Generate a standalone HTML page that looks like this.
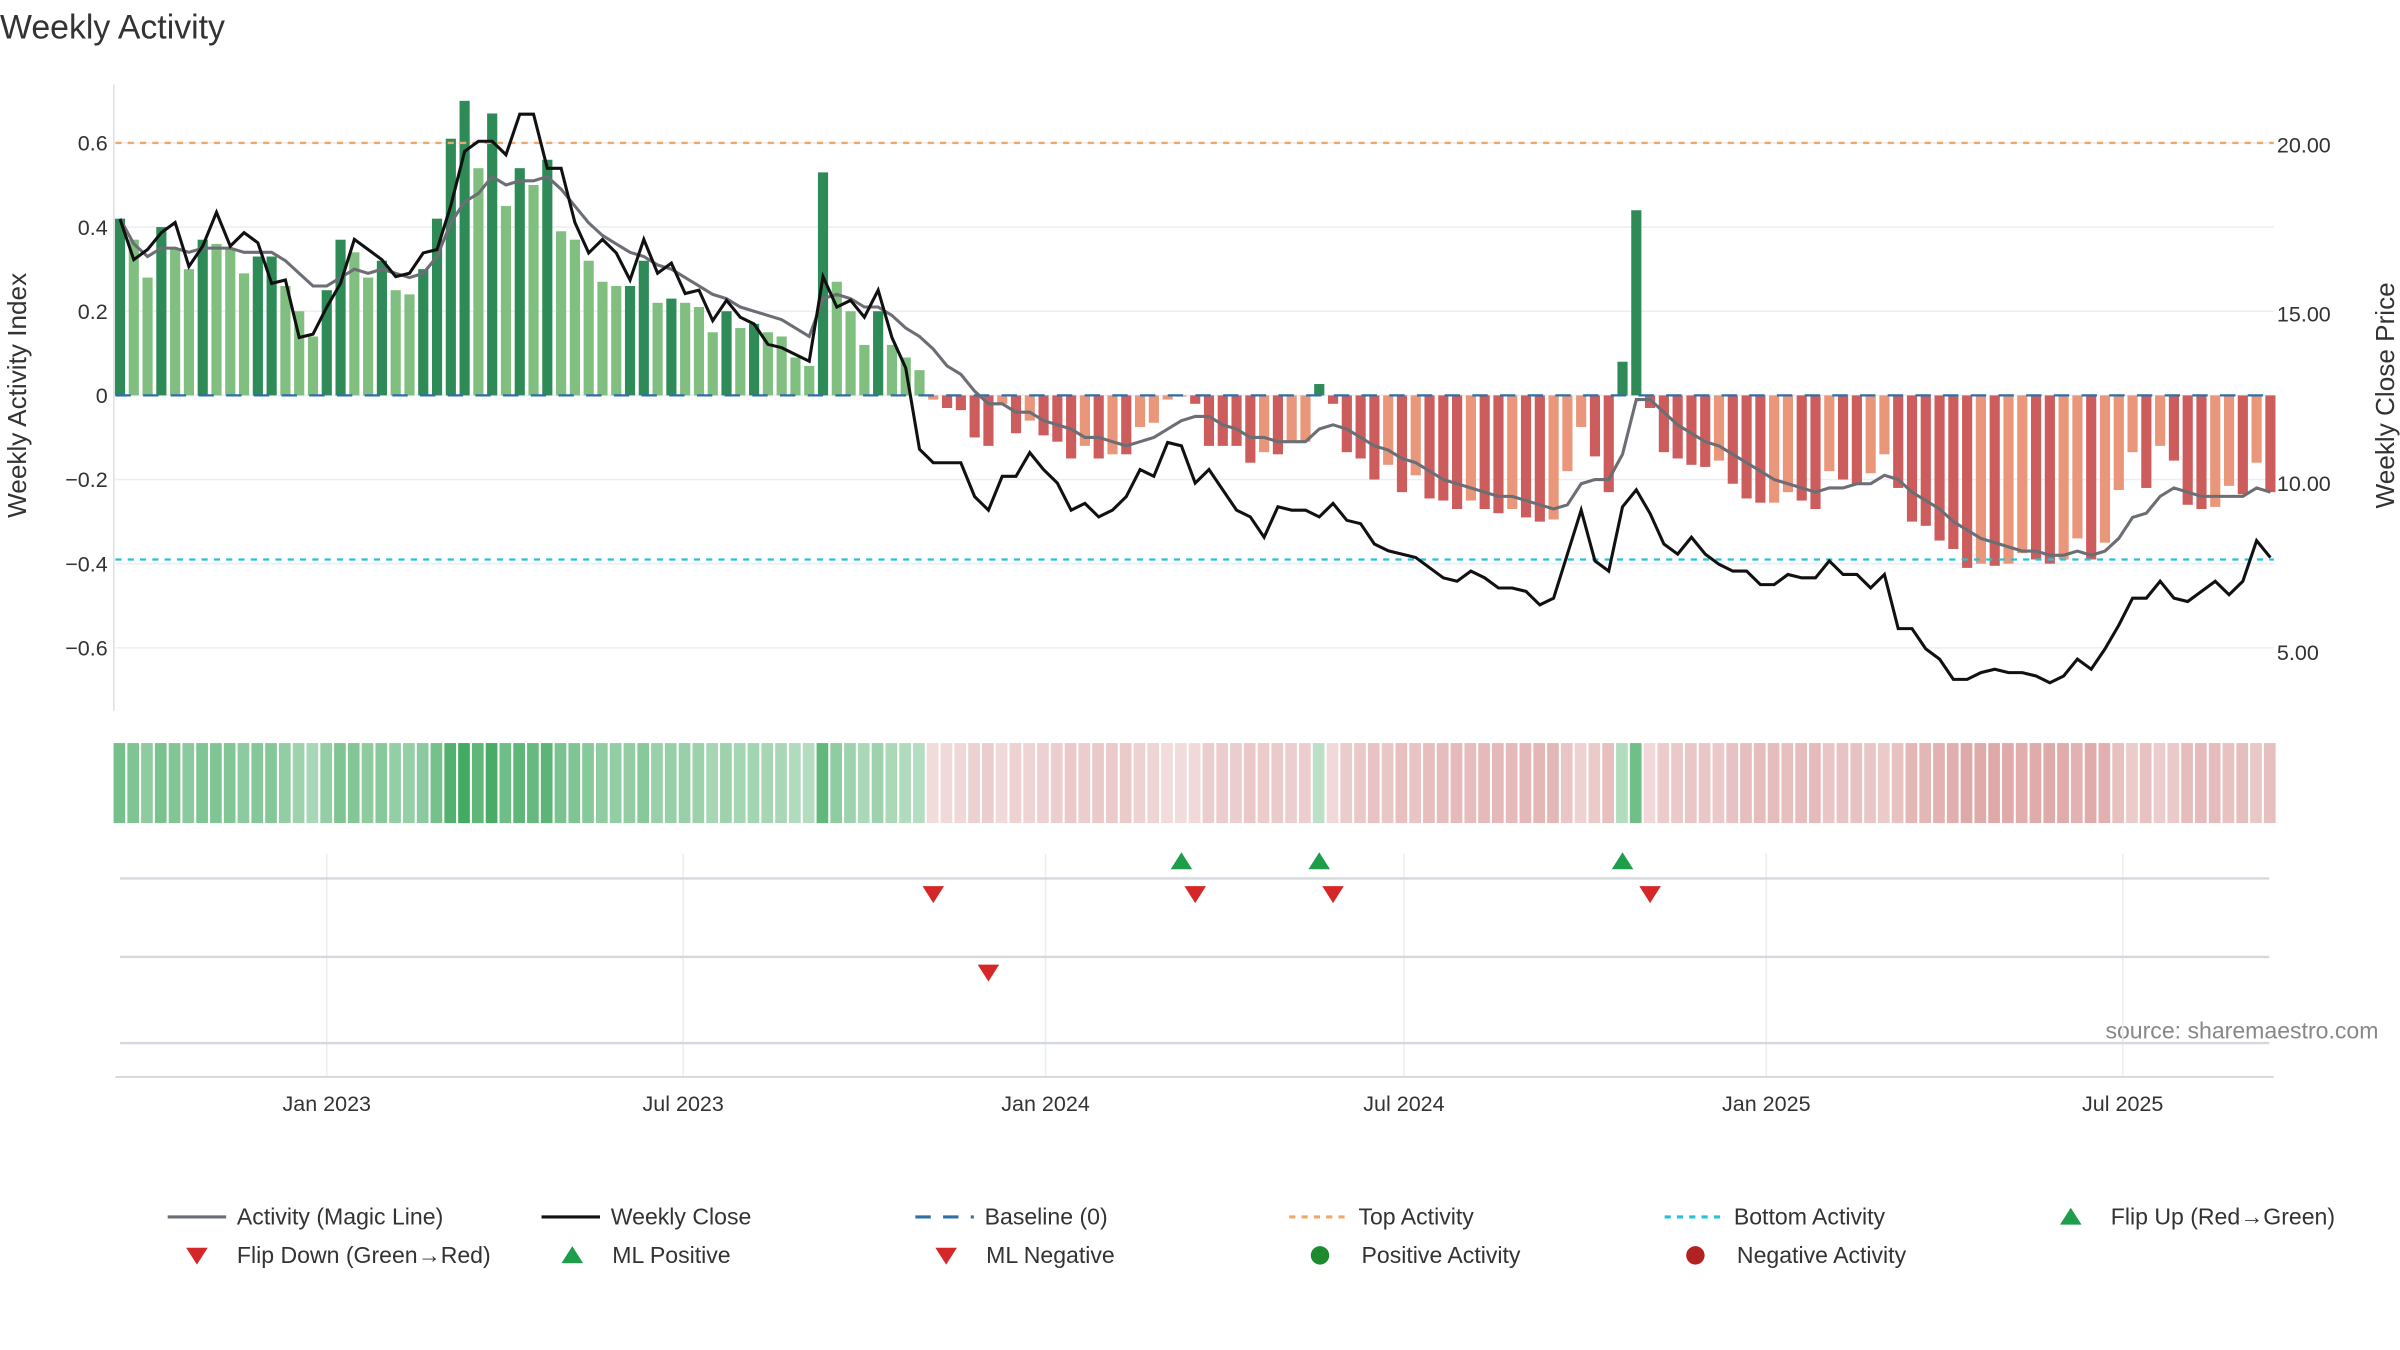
<!DOCTYPE html>
<html><head><meta charset="utf-8"><style>
html,body{margin:0;padding:0;background:#fff;}
svg{display:block;font-family:"Liberation Sans","DejaVu Sans",sans-serif;}
</style></head><body>
<svg id="chart" width="2400" height="1350" viewBox="0 0 1560 877.5" xmlns="http://www.w3.org/2000/svg">
<text x="0" y="25" font-size="22" fill="#333">Weekly Activity</text>
<text transform="translate(17,257) rotate(-90)" text-anchor="middle" font-size="17" fill="#333">Weekly Activity Index</text>
<text transform="translate(1556,257) rotate(-90)" text-anchor="middle" font-size="17" fill="#333">Weekly Close Price</text>
<text x="1546" y="675" text-anchor="end" font-size="15" fill="#888">source: sharemaestro.com</text>
<g id="grid"></g><g id="bars"></g><g id="lines"></g><g id="strip"></g><g id="signals"></g><g id="axes"></g><g id="legend"></g>
</svg>
<script>
const activity=[.42,.37,.28,.40,.35,.30,.37,.36,.35,.29,.33,.33,.26,.20,.14,.25,.37,.34,.28,.32,.25,.24,.30,.42,.61,.70,.54,.67,.45,.54,.50,.56,.39,.37,.32,.27,.26,.26,.32,.22,.23,
.22,.21,.15,.20,.16,.17,.15,.14,.09,.07,.53,.27,.20,.12,.20,.12,.09,.06,-.01,-.03,-.035,-.10,-.12,-.02,-.09,-.06,-.095,-.11,-.15,-.12,-.15,-.14,-.14,-.075,-.065,-.01,-.003,-.02,-.12,-.12,
-.12,-.16,-.135,-.14,-.11,-.11,.027,-.02,-.135,-.15,-.20,-.165,-.23,-.19,-.245,-.25,-.27,-.25,-.27,-.28,-.27,-.29,-.30,-.295,-.18,-.075,-.145,-.23,.08,.44,-.03,-.135,-.15,-.165,-.17,-.155,-.21,-.245,-.255,-.255,
-.23,-.25,-.27,-.18,-.20,-.21,-.185,-.14,-.22,-.30,-.31,-.345,-.365,-.41,-.40,-.405,-.40,-.375,-.39,-.40,-.39,-.34,-.39,-.35,-.225,-.135,-.22,-.12,-.155,-.26,-.27,-.265,-.215,-.235,-.16,-.23];
const strong=[1,0,0,1,0,0,1,0,0,0,1,1,0,0,0,1,1,0,0,1,0,0,1,1,1,1,0,1,0,1,0,1,0,0,0,0,0,1,1,0,1,
0,0,0,1,0,1,0,0,0,0,1,0,0,0,1,0,0,0,0,1,1,1,1,0,1,0,1,1,1,0,1,0,1,0,0,0,0,1,1,1,
1,1,0,1,0,0,1,1,1,1,1,0,1,0,1,1,1,0,1,1,0,1,1,0,0,0,1,1,1,1,1,1,1,1,1,0,1,1,1,0,
0,1,1,0,1,1,0,0,1,1,1,1,1,1,0,1,0,0,1,1,0,0,1,0,0,0,1,0,1,1,1,0,0,1,0,1];
const magic=[.42,.36,.33,.35,.35,.34,.35,.35,.35,.34,.34,.34,.32,.29,.26,.26,.28,.30,.29,.30,.29,.28,.29,.33,.41,.46,.48,.52,.50,.51,.51,.52,.49,.45,.41,.38,.36,.34,.33,.31,.30,
.28,.26,.24,.23,.21,.20,.19,.18,.16,.14,.23,.24,.23,.21,.21,.19,.16,.14,.11,.07,.05,.01,-.02,-.02,-.04,-.04,-.06,-.07,-.08,-.10,-.10,-.11,-.12,-.11,-.10,-.08,-.06,-.05,-.05,-.07,
-.08,-.10,-.10,-.11,-.11,-.11,-.08,-.07,-.08,-.10,-.12,-.13,-.15,-.16,-.18,-.20,-.21,-.22,-.23,-.24,-.24,-.25,-.26,-.27,-.26,-.21,-.20,-.20,-.14,-.01,-.01,-.04,-.07,-.09,-.11,-.12,-.14,-.16,-.18,-.20,
-.21,-.22,-.23,-.22,-.22,-.21,-.21,-.19,-.20,-.23,-.25,-.27,-.30,-.32,-.34,-.35,-.36,-.37,-.37,-.38,-.38,-.37,-.38,-.37,-.34,-.29,-.28,-.24,-.22,-.23,-.24,-.24,-.24,-.24,-.22,-.23];
const closePrice=[17.8,16.6,16.9,17.4,17.7,16.4,17.0,18.0,17.0,17.4,17.1,15.9,16.0,14.3,14.4,15.2,15.9,17.2,16.9,16.6,16.1,16.2,16.8,16.9,18.2,19.8,20.1,20.1,19.7,20.9,20.9,19.3,19.3,17.7,16.8,17.2,16.8,16.0,17.2,16.2,16.5,
15.6,15.7,14.8,15.4,14.9,14.7,14.1,14.0,13.8,13.6,16.1,15.2,15.4,14.9,15.7,14.3,13.4,11.0,10.6,10.6,10.6,9.6,9.2,10.2,10.2,10.9,10.4,10.0,9.2,9.4,9.0,9.2,9.6,10.4,10.2,11.2,11.1,10.0,10.4,9.8,
9.2,9.0,8.4,9.3,9.2,9.2,9.0,9.4,8.9,8.8,8.2,8.0,7.9,7.8,7.5,7.2,7.1,7.4,7.2,6.9,6.9,6.8,6.4,6.6,7.9,9.2,7.7,7.4,9.3,9.8,9.1,8.2,7.9,8.4,7.9,7.6,7.4,7.4,7.0,7.0,
7.3,7.2,7.2,7.7,7.3,7.3,6.9,7.3,5.7,5.7,5.1,4.8,4.2,4.2,4.4,4.5,4.4,4.4,4.3,4.1,4.3,4.8,4.5,5.1,5.8,6.6,6.6,7.1,6.6,6.5,6.8,7.1,6.7,7.1,8.3,7.8];
const leftTicks=[0.6,0.4,0.2,0,-0.2,-0.4,-0.6];
const leftTickLabels=["0.6","0.4","0.2","0","\u22120.2","\u22120.4","\u22120.6"];
const rightTicks=[20,15,10,5];
const rightTickLabels=["20.00","15.00","10.00","5.00"];
const dateTicks=["2023-01-01","2023-07-01","2024-01-01","2024-07-01","2025-01-01","2025-07-01"];
const dateTickLabels=["Jan 2023","Jul 2023","Jan 2024","Jul 2024","Jan 2025","Jul 2025"];
const startDate="2022-09-18";
const topActivity=0.6, bottomActivity=-0.39;
const flipUp=[77,87,109];
const flipDown=[59,78,88,111];
const mlNegative=[63];

const NS="http://www.w3.org/2000/svg";
const X0=78, STEP=8.96;
const xi=i=>X0+i*STEP;
const yA=v=>257-v*273.5;
const yP=p=>94+(20-p)*22;
const xd=s=>X0+((new Date(s)-new Date(startDate))/86400000)/7*STEP;
function mk(tag,attrs,parent){const e=document.createElementNS(NS,tag);for(const k in attrs)e.setAttribute(k,attrs[k]);document.getElementById(parent).appendChild(e);return e;}

// grid + reference lines
leftTicks.forEach((t,i)=>{
 const g=mk('line',{x1:75,x2:1478,y1:yA(t),y2:yA(t),stroke:'#eceef2','stroke-width':1},'grid');
 
 
 const l=mk('text',{x:70,y:yA(t)+5,'text-anchor':'end','font-size':14,fill:'#333'},'axes');
 l.textContent=leftTickLabels[i];
 
 
});
rightTicks.forEach((t,i)=>{
 const l=mk('text',{x:1480,y:yP(t)+5,'font-size':14,fill:'#333'},'axes');
 l.textContent=rightTickLabels[i];
 
 
});
let sp=mk('line',{x1:74,x2:74,y1:55,y2:462,stroke:'#dde0e4','stroke-width':1},'axes');



activity.forEach((v,i)=>{
 const pos=v>=0;
 const col=pos?(strong[i]?'#2e8b57':'#80bf80'):(strong[i]?'#cd5c5c':'#e9967a');
 const y=Math.min(yA(v),yA(0));
 const r=mk('rect',{x:xi(i)-3.3,y:y,width:6.6,height:Math.abs(yA(v)-yA(0)),fill:col},'bars');
 
 
 // strip
 const a=Math.min(1,Math.abs(v)/0.7);
 const sc=pos?`rgba(46,160,80,${0.3+0.6*a})`:`rgba(190,80,80,${0.2+0.5*a})`;
 const c=mk('rect',{x:xi(i)-4.2,y:483,width:7.6,height:52,fill:sc},'strip');
 
 
});

let tl=mk('line',{x1:75,x2:1478,y1:yA(topActivity),y2:yA(topActivity),stroke:'#f0a868','stroke-width':1.5,'stroke-dasharray':'4 4'},'lines');


let bl=mk('line',{x1:75,x2:1478,y1:yA(bottomActivity),y2:yA(bottomActivity),stroke:'#22c4dc','stroke-width':1.5,'stroke-dasharray':'4 4'},'lines');


let base=mk('line',{x1:75,x2:1478,y1:yA(0),y2:yA(0),stroke:'#2f6fa8','stroke-width':1.5,'stroke-dasharray':'10 8'},'lines');



let mp=mk('polyline',{points:magic.map((v,i)=>xi(i)+','+yA(v)).join(' '),fill:'none',stroke:'#6b6e74','stroke-width':2},'lines');


let cp=mk('polyline',{points:closePrice.map((v,i)=>xi(i)+','+yP(v)).join(' '),fill:'none',stroke:'#111','stroke-width':2},'lines');



// signal rows
[571,622,678].forEach(y=>{
 const l=mk('line',{x1:78,x2:1475,y1:y,y2:y,stroke:'#d5d8dc','stroke-width':1.5},'signals');
 
 
});
let ax=mk('line',{x1:75,x2:1478,y1:700,y2:700,stroke:'#cfd2d6','stroke-width':1},'axes');


dateTicks.forEach((d,i)=>{
 const x=xd(d);
 const g=mk('line',{x1:x,x2:x,y1:555,y2:700,stroke:'#eceef0','stroke-width':1},'grid');
 
 
 const t=mk('text',{x:x,y:722,'text-anchor':'middle','font-size':14,fill:'#333'},'axes');
 t.textContent=dateTickLabels[i];
 
 
});
function tri(x,y,up,col,parent){return mk('polygon',{points:up?`${x-7},${y+5} ${x+7},${y+5} ${x},${y-6}`:`${x-7},${y-5} ${x+7},${y-5} ${x},${y+6}`,fill:col},parent);}
flipUp.forEach(i=>{const t=tri(xi(i),560,true,'#1e9e4a','signals');
 
 });
flipDown.forEach(i=>{const t=tri(xi(i),581,false,'#d62728','signals');
 
 });
mlNegative.forEach(i=>{const t=tri(xi(i),632,false,'#d62728','signals');
 
 });

// legend
const L=[
 [109,796,'line','#6b6e74','','Activity (Magic Line)','legend-magic-line'],
 [352,796,'line','#111','','Weekly Close','legend-weekly-close'],
 [595,796,'line','#2f6fa8','10 8','Baseline (0)','legend-baseline'],
 [838,796,'line','#f0a868','4 4','Top Activity','legend-top-activity'],
 [1082,796,'line','#22c4dc','4 4','Bottom Activity','legend-bottom-activity'],
 [1346,796,'up','#1e9e4a','','Flip Up (Red\u2192Green)','legend-flip-up'],
 [128,821,'down','#d62728','','Flip Down (Green\u2192Red)','legend-flip-down'],
 [372,821,'up','#1e9e4a','','ML Positive','legend-ml-positive'],
 [615,821,'down','#d62728','','ML Negative','legend-ml-negative'],
 [858,821,'dot','#1e8a2e','','Positive Activity','legend-positive-activity'],
 [1102,821,'dot','#b22222','','Negative Activity','legend-negative-activity']];
L.forEach(e=>{
 const [x,y,k,c,da,txt,nm]=e;let tx;
 if(k==='line'){mk('line',{x1:x,x2:x+38,y1:y-5,y2:y-5,stroke:c,'stroke-width':2,'stroke-dasharray':da||'none'},'legend');tx=x+45;}
 else if(k==='dot'){mk('circle',{cx:x,cy:y-5,r:6,fill:c},'legend');tx=x+27;}
 else{tri(x,y-5,k==='up',c,'legend');tx=x+26;}
 const t=mk('text',{x:tx,y:y,'font-size':15,fill:'#333'},'legend');
 t.textContent=txt;
 
 
});
</script>
</body></html>
